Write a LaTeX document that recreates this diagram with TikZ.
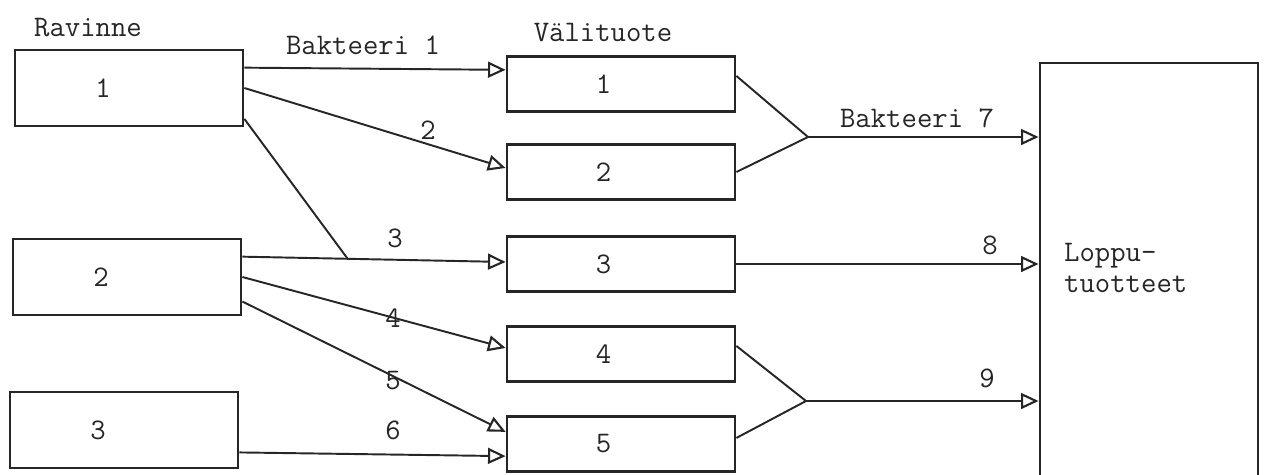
\documentclass[tikz,border=0pt]{standalone}
\usepackage{fontspec}
\usepackage{tikz}
\usetikzlibrary{arrows.meta, calc}
\tikzset{
  rbox/.style = {rectangle, draw=black!85, line width=1.6pt, inner sep=0pt,
                 minimum width=4.56cm, minimum height=1.52cm},
  vbox/.style = {rbox, minimum height=1.1cm},
  lbox/.style = {rbox, minimum width=4.36cm, minimum height=8.68cm},
  lin/.style  = {line width=1.1pt, draw=black!85},
  arr/.style  = {lin, -{Triangle[open, length=10pt, width=9pt, line width=1.2pt]}},
  lbl/.style  = {inner sep=0pt},
}

\begin{document}
\begin{tikzpicture}[x=0.02cm, y=-0.02cm, text=black!85,
                    font=\ttfamily\fontsize{17}{18}\selectfont]
  \useasboundingbox (0,0) rectangle (1265,474);

  % ravinteet, valituotteet ja lopputuotteet
  \node (ravinne) at (88,28) {Ravinne};
  \node (valituote) at (603,33) {Välituote};
  \foreach \i/\x/\y in {1/129/88, 2/127/277, 3/124/430}
    \node[rbox] (rav\i) at (\x,\y) {\i\hspace*{1.04cm}};
  \foreach \i/\y in {1/84, 2/172, 3/264, 4/354, 5/444}
    \node[vbox] (val\i) at (621,\y) {\i\hspace*{0.7cm}};
  \node[lbox] (loppu) at (1149,280) {};
  \node[anchor=west, align=left] (lopputxt) at (1058,268) {Loppu-\\tuotteet};

  % bakteerit 1-6
  \draw[arr] (rav1.10) -- (val1.173);
  \draw[arr] (rav1.east) -- (val2.178);
  \draw[arr] (rav2.10) -- (val3.179);
  \coordinate (j3) at ($(rav2.10)!0.4!(val3.179)$);
  \draw[lin] (rav1.-15) -- (j3);
  \draw[arr] (rav2.east) -- (val4.177);
  \draw[arr] (rav2.-12) -- (val5.174);
  \draw[arr] (rav3.-11) -- (val5.186);

  % bakteerit 7-9
  \coordinate (j7) at (808,137);
  \coordinate (j9) at (806,401);
  \draw[lin] (val1.4) -- (j7) -- (val2.east);
  \draw[arr] (j7) -- (j7 -| loppu.west);
  \draw[arr] (val3.east) -- (val3.east -| loppu.west);
  \draw[lin] (val4.4) -- (j9) -- (val5.3);
  \draw[arr] (j9) -- (j9 -| loppu.west);

  \node[lbl] (b1) at (363,45) {Bakteeri 1};
  \node[lbl] (b2) at (428,130) {2};
  \node[lbl] (b3) at (395,238) {3};
  \node[lbl] (b4) at (393,318) {4};
  \node[lbl] (b5) at (393,381) {5};
  \node[lbl] (b6) at (393,430) {6};
  \node[lbl] (b7) at (917,118) {Bakteeri 7};
  \node[lbl] (b8) at (990,245) {8};
  \node[lbl] (b9) at (987,378) {9};
\end{tikzpicture}
\end{document}
